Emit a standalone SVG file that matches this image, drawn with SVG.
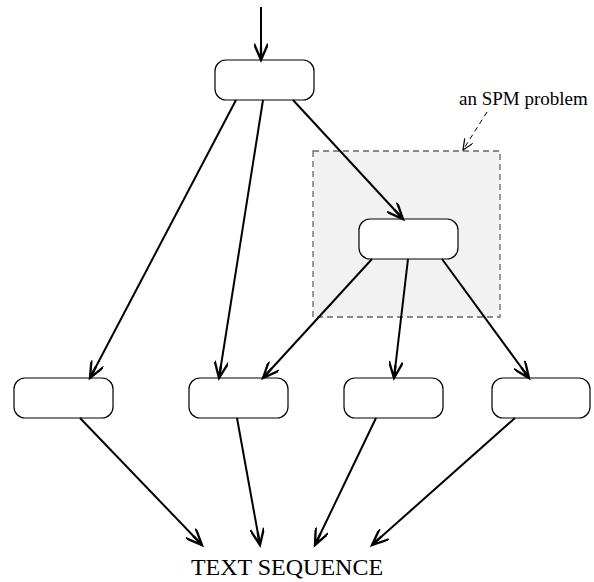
<svg xmlns="http://www.w3.org/2000/svg" width="594" height="582" viewBox="0 0 594 582">
<style>
.node rect{fill:#fff;stroke:#000;stroke-width:1.2}
.edge{stroke:#000;stroke-width:2;fill:none;marker-end:url(#arr)}
.lbl{font-family:"Liberation Serif",serif;fill:#000}
</style>
<defs>
<marker id="arr" markerUnits="userSpaceOnUse" markerWidth="20" markerHeight="14" refX="14" refY="6" orient="auto" viewBox="0 0 16 12">
<path d="M0,0 L14,6 L0,12 M14,6 L3,6" fill="none" stroke="#000" stroke-width="2"/>
</marker>
<marker id="arrs" markerUnits="userSpaceOnUse" markerWidth="12" markerHeight="10" refX="9" refY="4" orient="auto" viewBox="0 0 10 8">
<path d="M0,0 L9,4 L0,8" fill="none" stroke="#000" stroke-width="1"/>
</marker>
</defs>
<g id="spm-region">
<rect x="313" y="151" width="187" height="166" fill="#f2f2f2" stroke="#666" stroke-width="1.3" stroke-dasharray="6,4"/>
<text class="lbl" x="459" y="105" font-size="19">an SPM problem</text>
<line x1="487" y1="112" x2="463" y2="150" stroke="#000" stroke-width="1" stroke-dasharray="5,4" marker-end="url(#arrs)"/>
</g>
<g id="top" class="node"><rect x="215" y="60" width="99" height="40" rx="11"/></g>
<g id="mid" class="node"><rect x="359" y="219" width="99" height="40" rx="11"/></g>
<g id="b1" class="node"><rect x="14" y="378" width="99" height="40" rx="11"/></g>
<g id="b2" class="node"><rect x="189" y="378" width="99" height="40" rx="11"/></g>
<g id="b3" class="node"><rect x="344" y="378" width="99" height="40" rx="11"/></g>
<g id="b4" class="node"><rect x="492" y="378" width="98" height="40" rx="11"/></g>
<g id="output"><text class="lbl" x="287" y="575" font-size="24" text-anchor="middle">TEXT SEQUENCE</text></g>
<g id="connectors">
<line class="edge" x1="261" y1="7" x2="261" y2="60"/>
<line class="edge" x1="236" y1="100" x2="90" y2="378"/>
<line class="edge" x1="263" y1="100" x2="219" y2="378"/>
<line class="edge" x1="293" y1="100" x2="403" y2="219"/>
<line class="edge" x1="372" y1="259" x2="263" y2="378"/>
<line class="edge" x1="408" y1="259" x2="394" y2="378"/>
<line class="edge" x1="442" y1="259" x2="529" y2="378"/>
<line class="edge" x1="80" y1="418" x2="202" y2="545"/>
<line class="edge" x1="237" y1="418" x2="260" y2="545"/>
<line class="edge" x1="376" y1="418" x2="315" y2="545"/>
<line class="edge" x1="515" y1="418" x2="372" y2="545"/>
</g>
</svg>
